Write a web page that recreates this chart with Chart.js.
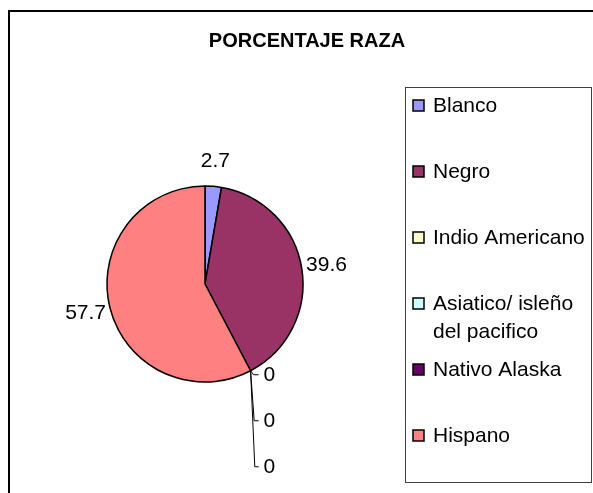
<!DOCTYPE html>
<html>
<head>
<meta charset="utf-8">
<script src="https://cdn.jsdelivr.net/npm/chart.js@4.4.0/dist/chart.umd.min.js"></script>
<style>
    html, body { margin: 0; padding: 0; background: #fff; }
    #wrap { width: 593px; height: 493px; }
</style>
</head>
<body>
<div id="wrap"><canvas id="raceChart" width="593" height="493"></canvas></div>
<script>
// Chart data
const chartTitle = 'PORCENTAJE RAZA';
const categories = ['Blanco', 'Negro', 'Indio Americano', 'Asiatico/ isleño del pacifico', 'Nativo Alaska', 'Hispano'];
const percentages = [2.7, 39.6, 0, 0, 0, 57.7];
const valueLabels = ['2.7', '39.6', '0', '0', '0', '57.7'];

// Old Excel palette
const sliceColors = ['#9999FF', '#993366', '#FFFFCC', '#CCFFFF', '#660066', '#FF8080'];

const FONT = '"Liberation Sans", Arial, sans-serif';

// Outer frame + title
const framePlugin = {
    id: 'frame',
    beforeDraw(chart) {
        const ctx = chart.ctx;
        ctx.save();
        ctx.fillStyle = '#fff';
        ctx.fillRect(0, 0, chart.width, chart.height);
        ctx.strokeStyle = '#000';
        ctx.lineWidth = 2;
        ctx.strokeRect(9, 11, 700, 700);
        ctx.fillStyle = '#000';
        ctx.font = 'bold 20px ' + FONT;
        ctx.textAlign = 'center';
        ctx.textBaseline = 'middle';
        ctx.fillText(chartTitle, 307, 41);
        ctx.restore();
    }
};

// Legend box on the right
const legendPlugin = {
    id: 'sideLegend',
    afterDraw(chart) {
        const ctx = chart.ctx;
        const ds = chart.data.datasets[0];
        ctx.save();
        ctx.strokeStyle = '#404040';
        ctx.lineWidth = 1;
        ctx.strokeRect(405.5, 87.5, 186, 395);
        ctx.font = '21px ' + FONT;
        ctx.textBaseline = 'middle';
        ctx.textAlign = 'left';
        chart.data.labels.forEach((label, i) => {
            const y = 106 + i * 66;
            ctx.fillStyle = ds.backgroundColor[i];
            ctx.fillRect(413, y - 6, 11, 11);
            ctx.strokeStyle = '#000';
            ctx.lineWidth = 1.5;
            ctx.strokeRect(413, y - 6, 11, 11);
            // wrap long names
            const words = label.split(' ');
            const lines = [];
            let line = '';
            words.forEach(w => {
                const test = line ? line + ' ' + w : w;
                if (line && ctx.measureText(test).width > 152) {
                    lines.push(line);
                    line = w;
                } else {
                    line = test;
                }
            });
            lines.push(line);
            ctx.fillStyle = '#000';
            lines.forEach((l, k) => ctx.fillText(l, 433, y + k * 28));
        });
        ctx.restore();
    }
};

// Value labels, with leader lines for the empty slices
const valueLabelPlugin = {
    id: 'valueLabels',
    afterDatasetsDraw(chart) {
        const ctx = chart.ctx;
        const meta = chart.getDatasetMeta(0);
        ctx.save();
        ctx.font = '21px ' + FONT;
        ctx.fillStyle = '#000';
        ctx.textBaseline = 'middle';
        let zeroCount = 0;
        meta.data.forEach((arc, i) => {
            const p = arc.getProps(['x', 'y', 'startAngle', 'endAngle', 'outerRadius'], true);
            const text = valueLabels[i];
            if (percentages[i] > 0) {
                const mid = (p.startAngle + p.endAngle) / 2;
                const d = p.outerRadius + 25;
                ctx.textAlign = 'center';
                ctx.fillText(text, p.x + Math.cos(mid) * d, p.y + Math.sin(mid) * d);
            } else {
                const ax = p.x + Math.cos(p.startAngle) * p.outerRadius;
                const ay = p.y + Math.sin(p.startAngle) * p.outerRadius;
                const ty = ay + 4 + zeroCount * 46;
                ctx.strokeStyle = '#000';
                ctx.lineWidth = 1;
                ctx.beginPath();
                ctx.moveTo(ax, ay);
                ctx.lineTo(ax + 3 + zeroCount * 0.6, ty);
                ctx.lineTo(ax + 8, ty);
                ctx.stroke();
                ctx.textAlign = 'left';
                ctx.fillText(text, ax + 13, ty);
                zeroCount++;
            }
        });
        ctx.restore();
    }
};

new Chart(document.getElementById('raceChart').getContext('2d'), {
    type: 'pie',
    data: {
        labels: categories,
        datasets: [{
            data: percentages,
            backgroundColor: sliceColors,
            borderColor: '#000',
            borderWidth: 1.5
        }]
    },
    options: {
        responsive: false,
        animation: false,
        radius: 98,
        layout: {
            padding: { left: 100, right: 283, top: 179, bottom: 104 }
        },
        plugins: {
            legend: { display: false },
            tooltip: { enabled: false }
        }
    },
    plugins: [framePlugin, legendPlugin, valueLabelPlugin]
});
</script>
</body>
</html>
